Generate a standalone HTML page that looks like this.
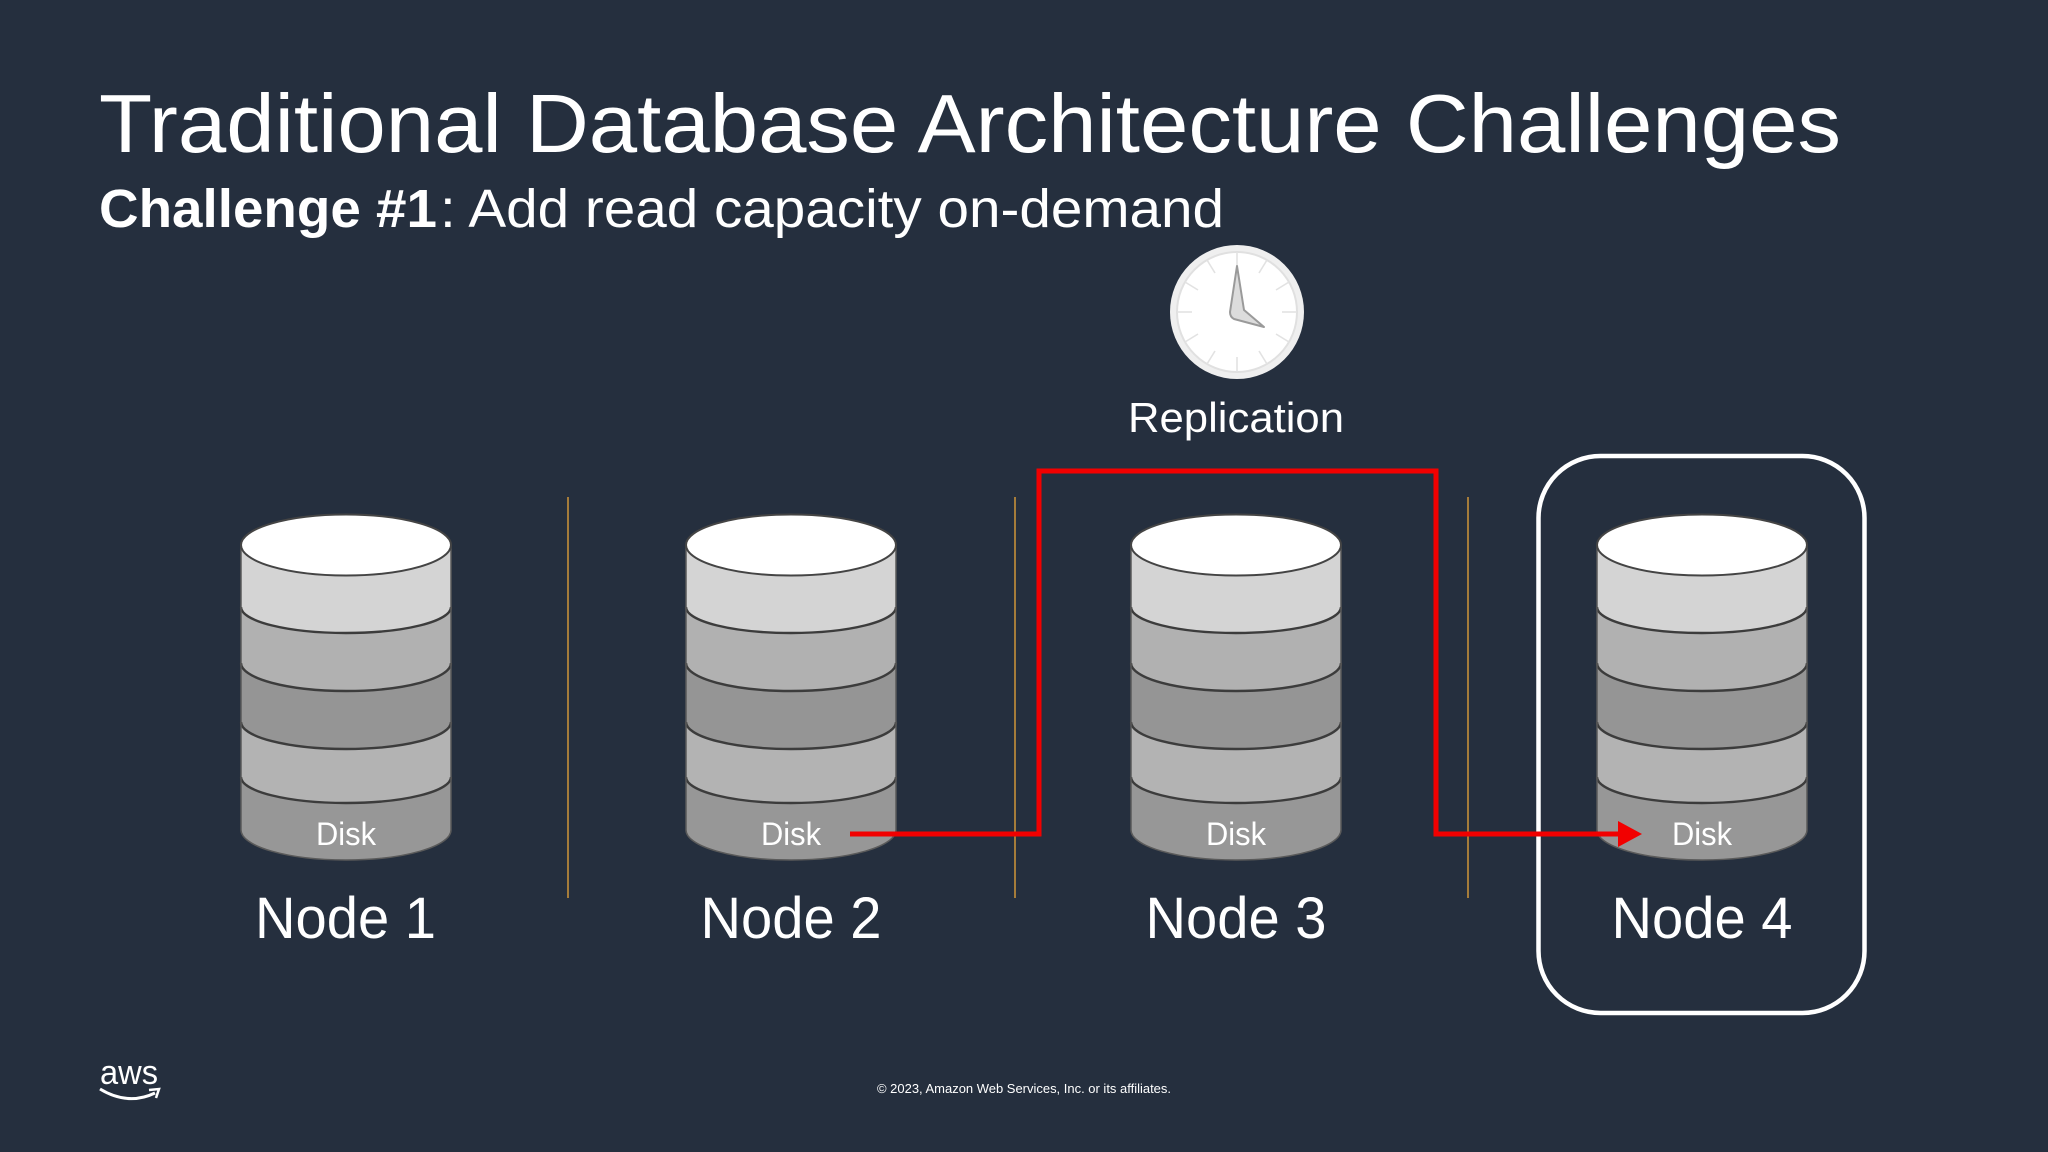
<!DOCTYPE html>
<html lang="en">
<head>
<meta charset="utf-8">
<title>Traditional Database Architecture Challenges</title>
<style>
html,body{margin:0;padding:0;background:#252f3e;width:2048px;height:1152px;overflow:hidden}
svg{display:block}
text{font-family:"Liberation Sans",sans-serif;fill:#fff}
</style>
</head>
<body>
<svg width="2048" height="1152" viewBox="0 0 2048 1152" xmlns="http://www.w3.org/2000/svg">
<defs>
<g id="cyl">
  <path d="M-105,545 V830 A105,30 0 0 0 105,830 V545 Z" fill="#979797"/>
  <path d="M-105,722 V777 A105,26 0 0 0 105,777 V722 Z" fill="#b3b3b3"/>
  <path d="M-105,663 V722 A105,27 0 0 0 105,722 V663 Z" fill="#959595"/>
  <path d="M-105,607 V663 A105,28 0 0 0 105,663 V607 Z" fill="#b1b1b1"/>
  <path d="M-105,545 V607 A105,26 0 0 0 105,607 V545 Z" fill="#d4d4d4"/>
  <path d="M-105,777 A105,26 0 0 0 105,777 M-105,722 A105,27 0 0 0 105,722 M-105,663 A105,28 0 0 0 105,663 M-105,607 A105,26 0 0 0 105,607" fill="none" stroke="#3c3c3c" stroke-width="2.4"/>
  <path d="M-105,545 V830 A105,30 0 0 0 105,830 V545" fill="none" stroke="#5a5a5a" stroke-width="1.5"/>
  <ellipse cx="0" cy="545" rx="105" ry="30.5" fill="#fff" stroke="#444" stroke-width="2"/>
</g>
</defs>

<rect width="2048" height="1152" fill="#252f3e"/>

<text x="99" y="152" font-size="83" textLength="1742" lengthAdjust="spacingAndGlyphs">Traditional Database Architecture Challenges</text>
<text x="99" y="227" font-size="54" font-weight="bold" textLength="338" lengthAdjust="spacingAndGlyphs">Challenge #1</text>
<text x="440" y="227" font-size="54" textLength="784" lengthAdjust="spacingAndGlyphs">: Add read capacity on-demand</text>

<!-- dividers -->
<g stroke="#a57c3a" stroke-width="2">
  <line x1="568" y1="497" x2="568" y2="898"/>
  <line x1="1015" y1="497" x2="1015" y2="898"/>
  <line x1="1468" y1="497" x2="1468" y2="898"/>
</g>

<!-- cylinders -->
<use href="#cyl" x="346"/>
<use href="#cyl" x="791"/>
<use href="#cyl" x="1236"/>
<use href="#cyl" x="1702"/>

<g font-size="32" text-anchor="middle">
  <text x="346" y="845" textLength="60" lengthAdjust="spacingAndGlyphs">Disk</text>
  <text x="791" y="845" textLength="60" lengthAdjust="spacingAndGlyphs">Disk</text>
  <text x="1236" y="845" textLength="60" lengthAdjust="spacingAndGlyphs">Disk</text>
  <text x="1702" y="845" textLength="60" lengthAdjust="spacingAndGlyphs">Disk</text>
</g>
<g font-size="58" text-anchor="middle">
  <text x="345.5" y="938" textLength="181" lengthAdjust="spacingAndGlyphs">Node 1</text>
  <text x="791" y="938" textLength="181" lengthAdjust="spacingAndGlyphs">Node 2</text>
  <text x="1236" y="938" textLength="181" lengthAdjust="spacingAndGlyphs">Node 3</text>
  <text x="1702" y="938" textLength="181" lengthAdjust="spacingAndGlyphs">Node 4</text>
</g>

<!-- highlight -->
<rect x="1538.5" y="456" width="326" height="557" rx="62" ry="62" fill="none" stroke="#fff" stroke-width="4.5"/>

<!-- replication path -->
<path d="M850,834 H1039 V471 H1436 V834 H1625" fill="none" stroke="#f20000" stroke-width="5"/>
<polygon points="1618,821 1642,834 1618,847" fill="#f20000"/>

<!-- clock -->
<g transform="translate(1237,312)">
  <circle r="67" fill="#efefef"/>
  <circle r="60" fill="#fff" stroke="#e0e0e0" stroke-width="2"/>
  <g stroke="#e2e2e2" stroke-width="1.6">
    <line x1="0" y1="-60" x2="0" y2="-45"/>
    <line x1="0" y1="60" x2="0" y2="45"/>
    <line x1="-60" y1="0" x2="-45" y2="0"/>
    <line x1="60" y1="0" x2="45" y2="0"/>
    <line x1="30" y1="-52" x2="22" y2="-39"/>
    <line x1="52" y1="-30" x2="39" y2="-22"/>
    <line x1="52" y1="30" x2="39" y2="22"/>
    <line x1="30" y1="52" x2="22" y2="39"/>
    <line x1="-30" y1="52" x2="-22" y2="39"/>
    <line x1="-52" y1="30" x2="-39" y2="22"/>
    <line x1="-52" y1="-30" x2="-39" y2="-22"/>
    <line x1="-30" y1="-52" x2="-22" y2="-39"/>
  </g>
  <path d="M0,-46 L7,-2 L27,15 L-3,7 Q-7,5 -7,0 Z" fill="#dcdcdc" stroke="#9a9a9a" stroke-width="2" stroke-linejoin="round"/>
</g>
<text x="1236" y="432" font-size="42" text-anchor="middle" textLength="216" lengthAdjust="spacingAndGlyphs">Replication</text>

<!-- footer -->
<text x="100" y="1084" font-size="34" textLength="58" lengthAdjust="spacingAndGlyphs">aws</text>
<path d="M100,1089 Q128,1106 155,1093" fill="none" stroke="#fff" stroke-width="3"/>
<path d="M149,1090 L159,1089 L156,1098" fill="none" stroke="#fff" stroke-width="2.5"/>
<text x="877" y="1093" font-size="13" textLength="294" lengthAdjust="spacingAndGlyphs" fill="#e8e8e8">© 2023, Amazon Web Services, Inc. or its affiliates.</text>
</svg>
</body>
</html>
